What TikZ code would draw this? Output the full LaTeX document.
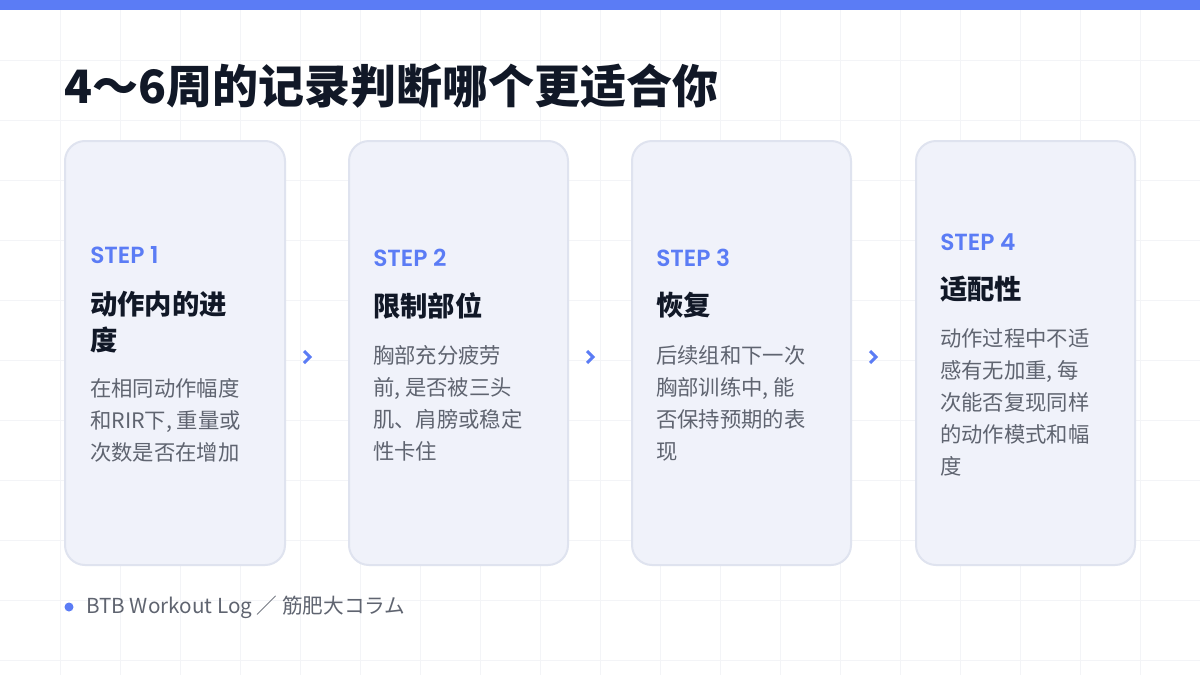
\documentclass[tikz,border=0pt]{standalone}
\usepackage{fontspec}
\setmainfont{Noto Sans CJK SC}
\newfontfamily\stepfont{Poppins}[BoldFont={* SemiBold}]
\usetikzlibrary{positioning}
\definecolor{accent}{HTML}{5B7CF5}
\definecolor{cardfill}{HTML}{F0F2FA}
\definecolor{cardline}{HTML}{DFE3EF}
\definecolor{ink}{HTML}{111827}
\definecolor{bodyink}{HTML}{5F6470}
\definecolor{gridline}{HTML}{F3F4F7}
\begin{document}
\begin{tikzpicture}[x=0.75pt,y=-0.75pt,
card/.style={draw=cardline, line width=1.5pt, fill=cardfill, rounded corners=15pt},
steplabel/.style={anchor=north west, inner sep=0pt, text=accent, font=\stepfont\bfseries\fontsize{17.5}{17.5}\selectfont},
cardtitle/.style={anchor=north west, inner sep=0pt, text=ink, align=left, font=\bfseries\fontsize{20.5}{27}\selectfont},
cardbody/.style={anchor=north west, inner sep=0pt, text=bodyink, align=left, font=\fontsize{16}{24}\selectfont},
chevron/.style={accent, line width=2.2pt},
]
\useasboundingbox (0,0) rectangle (1200,675);
%Background
\fill[white] (0,0) rectangle (1200,675);
\foreach \gx in {60,120,...,1140} \draw[gridline] (\gx,0) -- (\gx,675);
\foreach \gy in {60,120,...,660} \draw[gridline] (0,\gy) -- (1200,\gy);
\fill[accent] (0,0) rectangle (1200,10);

%Title
\node[anchor=west, inner sep=0pt, text=ink, font=\bfseries\fontsize{34.5}{34.5}\selectfont] (heading) at (64,86) {4\char"301C 6周的记录判断哪个更适合你};

%Cards
\draw[card] (65,141) rectangle (285,565);
\draw[card] (349,141) rectangle (568,565);
\draw[card] (632,141) rectangle (851,565);
\draw[card] (916,141) rectangle (1135,565);

\node[steplabel] (stepA) at (90,246) {STEP 1};
\node[cardtitle] (titleA) at (90,291) {动作内的进\\度};
\node[cardbody]  (bodyA) at (90,378) {在相同动作幅度\\和RIR下, 重量或\\次数是否在增加};

\node[steplabel] (stepB) at (373,249) {STEP 2};
\node[cardtitle] (titleB) at (373,292) {限制部位};
\node[cardbody]  (bodyB) at (373,345) {胸部充分疲劳\\前, 是否被三头\\肌、肩膀或稳定\\性卡住};

\node[steplabel] (stepC) at (656,249) {STEP 3};
\node[cardtitle] (titleC) at (656,292) {恢复};
\node[cardbody]  (bodyC) at (656,345) {后续组和下一次\\胸部训练中, 能\\否保持预期的表\\现};

\node[steplabel] (stepD) at (940,233) {STEP 4};
\node[cardtitle] (titleD) at (940,276) {适配性};
\node[cardbody]  (bodyD) at (940,328) {动作过程中不适\\感有无加重, 每\\次能否复现同样\\的动作模式和幅\\度};

%Chevrons
\coordinate (chevA) at (307,357);
\coordinate (chevB) at (590,357);
\coordinate (chevC) at (873,357);
\foreach \c in {chevA,chevB,chevC}
  \draw[chevron] ([shift={(-3,-6)}]\c) -- ([shift={(3,0)}]\c) -- ([shift={(-3,6)}]\c);

%Footer
\fill[accent] (69,607) circle (4.5);
\node[anchor=west, inner sep=0pt, text=bodyink, font=\fontsize{15.5}{15.5}\selectfont] (footer) at (86,607) {BTB Workout Log ／ 筋肥大コラム};
\end{tikzpicture}
\end{document}
